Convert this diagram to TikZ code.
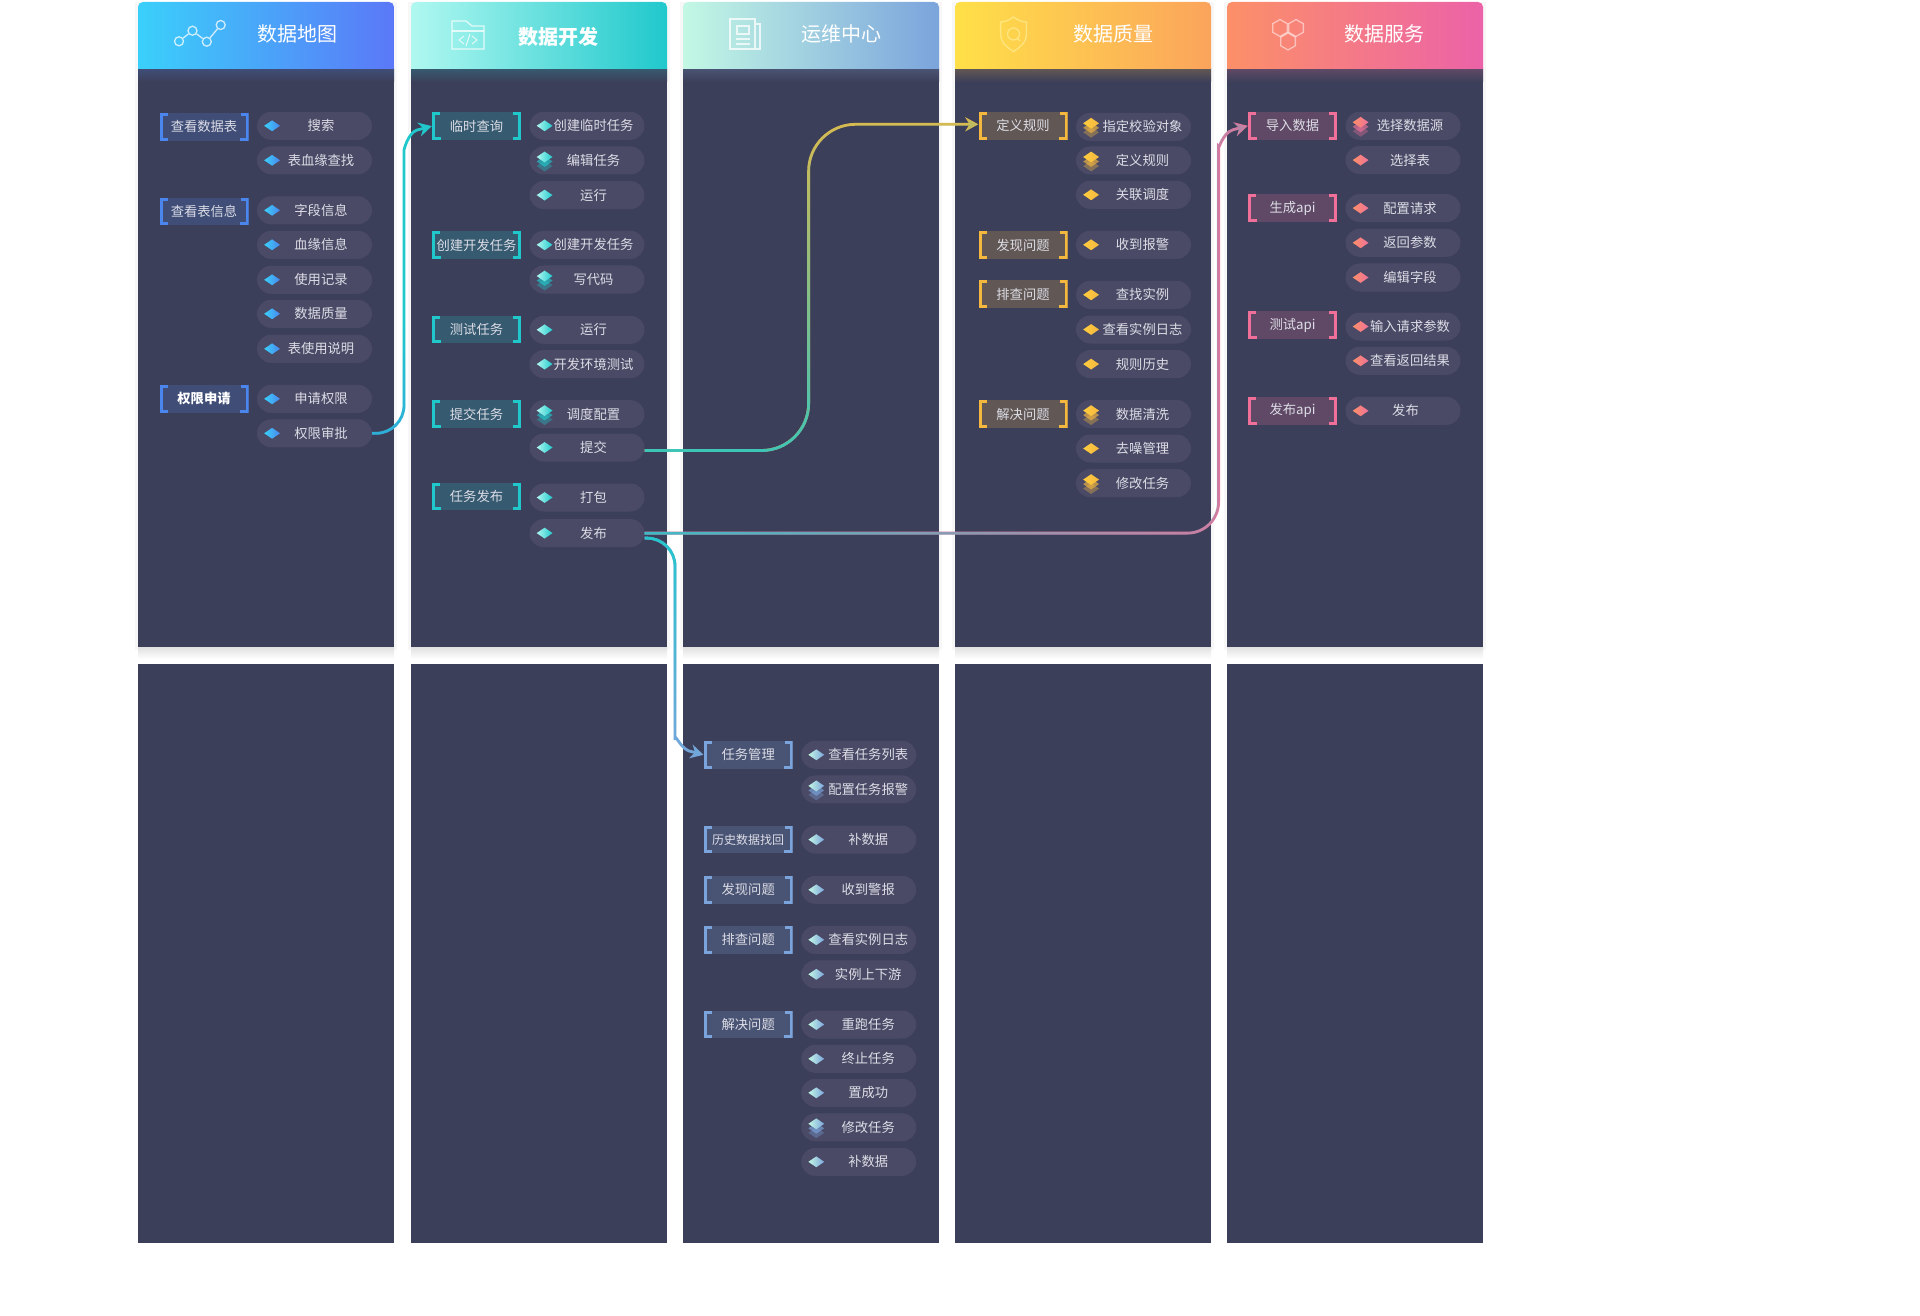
\documentclass[tikz,border=0pt]{standalone}
\usepackage{fontspec}
\setmainfont{Noto Sans CJK SC}
\usetikzlibrary{shapes.geometric,arrows.meta,fadings}
\definecolor{panelc}{HTML}{3C3F59}
\definecolor{pillc}{HTML}{4A4A66}
\definecolor{txtc}{HTML}{DCDDE6}
\definecolor{blueA}{HTML}{3AD0FA}
\definecolor{blueB}{HTML}{5B78F8}
\definecolor{tealA}{HTML}{B0F8F0}
\definecolor{tealB}{HTML}{20C8CC}
\definecolor{skyA}{HTML}{C3F8E4}
\definecolor{skyB}{HTML}{7BA4DC}
\definecolor{goldA}{HTML}{FFE048}
\definecolor{goldB}{HTML}{FBA45C}
\definecolor{goldL}{HTML}{FFCC40}
\definecolor{roseA}{HTML}{FC9068}
\definecolor{roseB}{HTML}{EC62A8}
\definecolor{blueT}{HTML}{4A86EE}
\definecolor{goldT}{HTML}{F5B83E}
\definecolor{roseT}{HTML}{F0709A}
\tikzset{
  pill/.style={fill=pillc,rounded corners=14pt,minimum width=115pt,minimum height=28pt,inner sep=0pt,text=txtc,font=\fontsize{13.3}{13.3}\selectfont},
  tag/.style={fill=mainc!20!panelc,minimum width=89pt,minimum height=27.5pt,inner sep=0pt,text=txtc,font=\fontsize{13.3}{13.3}\selectfont,
    path picture={
      \draw[mainc,line width=3pt] ([shift={(8,1.5)}]path picture bounding box.north west) -| ([shift={(1.5,-1.5)}]path picture bounding box.south west) -- ++(7,0);
      \draw[mainc,line width=3pt] ([shift={(-8,1.5)}]path picture bounding box.north east) -| ([shift={(-1.5,-1.5)}]path picture bounding box.south east) -- ++(-7,0);
    }},
  dia/.style={diamond,inner sep=0pt,minimum width=16pt,minimum height=11pt,left color=mainl,right color=mainc},
  stack/.style={dia,yshift=3.5pt,
    preaction={fill=mainc,opacity=.35,transform canvas={yshift=-9pt}},
    preaction={fill=mainc,opacity=.65,transform canvas={yshift=-4.5pt}}},
  head/.style={text=white,font=\fontsize{20}{20}\selectfont},
  icon/.style={draw=white,opacity=.75,line width=1.3pt},
  link/.style={line width=2.8pt,rounded corners=28pt,-{Stealth[length=13pt,width=14pt]}},
  fadelow/.style={path fading=north,fading transform={yshift=-31pt}},
  fadeup/.style={path fading=north,fading transform={yscale=1.4}},
  fadedown/.style={path fading=south,fading transform={yscale=1.1}},
  faderight/.style={path fading=east,fading transform={xscale=1.4}}
}
\begin{document}
\begin{tikzpicture}[x=1pt,y=-1pt]
\useasboundingbox (0,0) rectangle (1920,1316);

\foreach \xx/\ca/\cb/\cc in {138/blueA/blueB/blueT,411/tealA/tealB/tealB,683/skyA/skyB/skyB,955/goldA/goldB/goldT,1227/roseA/roseB/roseT}{
  \fill[black!3] (\xx-3,2) rectangle (\xx+259,650);
  \shade[top color=black!12,bottom color=white] (\xx,647) rectangle (\xx+256,659);
  \fill[panelc] (\xx,69) rectangle (\xx+256,647);
  \fill[panelc] (\xx,664) rectangle (\xx+256,1243);
  \shade[top color=\cc!20!panelc,bottom color=panelc] (\xx,69) rectangle (\xx+256,82);
  \shade[left color=\ca,right color=\cb,rounded corners=5pt] (\xx,30) |- (\xx+256,2) -- (\xx+256,30) [sharp corners] -- (\xx+256,69) -- (\xx,69) -- cycle;
}

\node[head] (h1) at (297,34) {数据地图};
\node[head,font=\fontsize{20}{20}\selectfont\bfseries] (h2) at (558,37) {数据开发};
\node[head] (h3) at (841,34) {运维中心};
\node[head] (h4) at (1113,34) {数据质量};
\node[head] (h5) at (1384,34) {数据服务};

\node[circle,icon,inner sep=0pt,minimum size=9pt] (c1) at (179,41.3) {};
\node[circle,icon,inner sep=0pt,minimum size=9pt] (c2) at (192.5,30.7) {};
\node[circle,icon,inner sep=0pt,minimum size=9pt] (c3) at (206.8,41.7) {};
\node[circle,icon,inner sep=0pt,minimum size=9pt] (c4) at (220.7,25) {};
\draw[icon] (c1) -- (c2);
\draw[icon] (c2) -- (c3);
\draw[icon] (c3) -- (c4);

\draw[icon] (452,49) -- (452,21) -- (466,21) -- (472,26) -- (484,26) -- (484,49) -- cycle;
\draw[icon] (452,31) -- (484,31);
\draw[icon,line width=1pt] (464,36) -- (459,40) -- (464,44);
\draw[icon,line width=1pt] (472,36) -- (477,40) -- (472,44);
\draw[icon,line width=1pt] (470,34) -- (466,46);

\draw[icon] (755,24) -- (760,24) -- (760,49) -- (730,49) -- (730,19) -- (755,19) -- (755,49);
\draw[icon] (737,26) rectangle (749,34);
\draw[icon] (736,39) -- (750,39);
\draw[icon] (736,44) -- (750,44);

\draw[icon,draw=goldA!60!white] (1013.5,17) .. controls (1019,21) and (1023,22) .. (1026.4,22) -- (1026.4,34) .. controls (1026.4,43) and (1019,48) .. (1013.5,51.5) .. controls (1008,48) and (1000.6,43) .. (1000.6,34) -- (1000.6,22) .. controls (1004,22) and (1008,21) .. (1013.5,17) -- cycle;
\node[circle,icon,draw=goldA!60!white,inner sep=0pt,minimum size=12pt] (q0) at (1013.5,34) {};
\coordinate (q00) at (1020,41);
\draw[icon,draw=goldA!60!white] (q0) -- (q00);

\node[regular polygon,regular polygon sides=6,shape border rotate=30,icon,opacity=.5,inner sep=0pt,minimum size=17pt] (x1) at (1280,28) {};
\node[regular polygon,regular polygon sides=6,shape border rotate=30,icon,opacity=.5,inner sep=0pt,minimum size=17pt] (x2) at (1296,28) {};
\node[regular polygon,regular polygon sides=6,shape border rotate=30,icon,opacity=.5,inner sep=0pt,minimum size=17pt] (x3) at (1288,41.5) {};

\begin{scope}[shift={(138.5,0.8)}]
\colorlet{mainc}{blueT}
\colorlet{mainl}{blueA}
\foreach \nm/\yy/\txt in {mt1/126/查看数据表,mt2/210.5/查看表信息,mt3/398/{\bfseries\color{white}权限申请}}
  \node[tag] (\nm) at (65.5,\yy) {\txt};
\foreach \nm/\yy/\txt/\ic in {m1/125/搜索/dia,m2/159.5/表血缘查找/dia,m3/209.5/字段信息/dia,m4/244/血缘信息/dia,m5/279/使用记录/dia,m6/313/数据质量/dia,m7/348/表使用说明/dia,m8/398/申请权限/dia,m9/432.5/权限审批/dia}{
  \node[pill] (\nm) at (176,\yy) {\hspace*{13pt}\txt};
  \node[\ic] (\nm-i) at (133.6,\yy) {};
}
\end{scope}

\begin{scope}[shift={(411,0.8)}]
\colorlet{mainc}{tealB}
\colorlet{mainl}{tealA}
\foreach \nm/\yy/\txt in {dt1/125.3/临时查询,dt2/244.3/创建开发任务,dt3/328.7/测试任务,dt4/413.3/提交任务,dt5/495.7/任务发布}
  \node[tag] (\nm) at (65.5,\yy) {\txt};
\foreach \nm/\yy/\txt/\ic in {d1/125/创建临时任务/dia,d2/159.7/编辑任务/stack,d3/194.3/运行/dia,d4/244/创建开发任务/dia,d5/278.7/写代码/stack,d6/329/运行/dia,d7/363.3/开发环境测试/dia,d8/413.3/调度配置/stack,d9/446.7/提交/dia,d10/496.7/打包/dia,d11/532.3/发布/dia}{
  \node[pill] (\nm) at (176,\yy) {\hspace*{13pt}\txt};
  \node[\ic] (\nm-i) at (133.6,\yy) {};
}
\end{scope}

\begin{scope}[shift={(682.7,0.8)}]
\colorlet{mainc}{skyB}
\colorlet{mainl}{skyA}
\foreach \nm/\yy/\txt in {ot1/754/任务管理,ot2/838.8/{\fontsize{12}{12}\selectfont 历史数据找回},ot3/889/发现问题,ot4/939/排查问题,ot5/1023.7/解决问题}
  \node[tag] (\nm) at (65.5,\yy) {\txt};
\foreach \nm/\yy/\txt/\ic in {o1/754/查看任务列表/dia,o2/788.6/配置任务报警/stack,o3/838.8/补数据/dia,o4/889/收到警报/dia,o5/939/查看实例日志/dia,o6/973.5/实例上下游/dia,o7/1023.7/重跑任务/dia,o8/1058/终止任务/dia,o9/1092/置成功/dia,o10/1126.5/修改任务/stack,o11/1161/补数据/dia}{
  \node[pill] (\nm) at (176,\yy) {\hspace*{19pt}\txt};
  \node[\ic] (\nm-i) at (133.6,\yy) {};
}
\end{scope}

\begin{scope}[shift={(957.5,0.8)}]
\colorlet{mainc}{goldT}
\colorlet{mainl}{goldL}
\foreach \nm/\yy/\txt in {qt1/125/定义规则,qt2/244.3/发现问题,qt3/293.3/排查问题,qt4/413.3/解决问题}
  \node[tag] (\nm) at (65.5,\yy) {\txt};
\foreach \nm/\yy/\txt/\ic in {q1/126/指定校验对象/stack,q2/159.7/定义规则/stack,q3/194/关联调度/dia,q4/244/收到报警/dia,q5/294/查找实例/dia,q6/328.7/查看实例日志/dia,q7/363.3/规则历史/dia,q8/413.3/数据清洗/stack,q9/447.7/去噪管理/dia,q10/482.3/修改任务/stack}{
  \node[pill] (\nm) at (176,\yy) {\hspace*{18pt}\txt};
  \node[\ic] (\nm-i) at (133.6,\yy) {};
}
\end{scope}

\begin{scope}[shift={(1227,0.8)}]
\colorlet{mainc}{roseT}
\colorlet{mainl}{roseA}
\foreach \nm/\yy/\txt in {st1/125/导入数据,st2/207.3/生成api,st3/324.3/测试api,st4/410/发布api}
  \node[tag] (\nm) at (65.5,\yy) {\txt};
\foreach \nm/\yy/\txt/\ic in {s1/125/选择数据源/stack,s2/159.3/选择表/dia,s3/207.3/配置请求/dia,s4/242/返回参数/dia,s5/276.7/编辑字段/dia,s6/325.7/输入请求参数/dia,s7/360/查看返回结果/dia,s8/410/{\hspace*{-9pt}发布}/dia}{
  \node[pill] (\nm) at (176,\yy) {\hspace*{14pt}\txt};
  \node[\ic] (\nm-i) at (133.6,\yy) {};
}
\end{scope}

\coordinate (bend1) at (404,178);
\coordinate (bend2) at (808.6,300);
\coordinate (bend3) at (1218.6,178);
\coordinate (bend4) at (675,712);
\coordinate (arr1) at ([shift={(-15,4)}]dt1.west);
\coordinate (arr3) at ([shift={(-15,4)}]st1.west);
\coordinate (arr4) at ([shift={(-15,-4)}]ot1.west);

\draw[link,tealB] (m9.east) -| (bend1) [sharp corners] .. controls (404,150) and (408,133) .. (arr1) -- (dt1.west);
\draw[link,blueT,fadelow] (m9.east) -| (bend1) [sharp corners] .. controls (404,150) and (408,133) .. (arr1) -- (dt1.west);
\draw[link,goldT,rounded corners=47pt] ([yshift=-3pt]d9.east) -| (bend2) |- ([yshift=1.5pt]qt1.west);
\draw[link,tealB,rounded corners=47pt,fadeup] ([yshift=-3pt]d9.east) -| (bend2) |- ([yshift=1.5pt]qt1.west);
\draw[link,roseT,rounded corners=31pt] (d11.east) -| (bend3) [sharp corners] .. controls (1218.6,150) and (1222.6,133) .. (arr3) -- (st1.west);
\draw[link,tealB,rounded corners=31pt,faderight] (d11.east) -| (bend3) [sharp corners] .. controls (1218.6,150) and (1222.6,133) .. (arr3) -- (st1.west);
\draw[link,skyB] ([yshift=-5pt]d11.east) -| (bend4) [sharp corners] .. controls (675,732) and (679,746.5) .. (arr4) -- (ot1.west);
\draw[link,tealB,fadedown] ([yshift=-5pt]d11.east) -| (bend4) [sharp corners] .. controls (675,732) and (679,746.5) .. (arr4) -- (ot1.west);
\end{tikzpicture}
\end{document}
